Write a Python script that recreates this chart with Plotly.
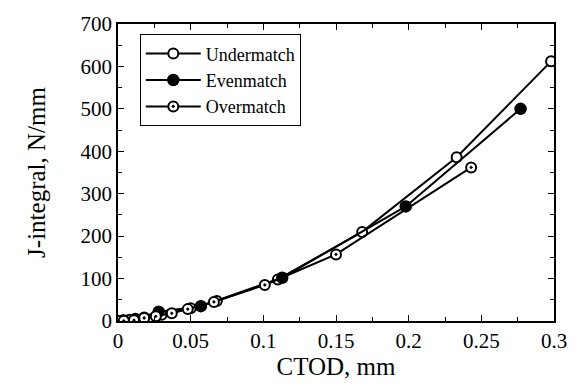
import plotly.graph_objects as go

# CTOD (mm) and J-integral (N/mm) for each weld strength mismatch
under_ctod = [0.0, 0.003, 0.008, 0.018, 0.030, 0.050, 0.068, 0.110, 0.168, 0.233, 0.298]
under_j = [0, 1, 3, 8, 15, 30, 47, 98, 210, 386, 612]

even_ctod = [0.0, 0.004, 0.012, 0.028, 0.057, 0.113, 0.198, 0.277]
even_j = [0, 1, 5, 22, 35, 102, 270, 500]

over_ctod = [0.0, 0.004, 0.011, 0.018, 0.026, 0.037, 0.048, 0.066, 0.101, 0.150, 0.243]
over_j = [0, 0.5, 2, 7, 11, 18, 28, 45, 85, 157, 362]

x_ticks = [0, 0.05, 0.1, 0.15, 0.2, 0.25, 0.3]
x_tick_text = ["0", "0.05", "0.1", "0.15", "0.2", "0.25", "0.3"]
y_ticks = [0, 100, 200, 300, 400, 500, 600, 700]

FONT = "Liberation Serif"

fig = go.Figure()

fig.add_trace(go.Scatter(
    x=under_ctod, y=under_j, name="Undermatch", mode="lines+markers",
    line=dict(color="black", width=2),
    marker=dict(symbol="circle", size=10, color="white",
                line=dict(color="black", width=2)),
))
fig.add_trace(go.Scatter(
    x=even_ctod, y=even_j, name="Evenmatch", mode="lines+markers",
    line=dict(color="black", width=2),
    marker=dict(symbol="circle", size=11, color="black",
                line=dict(color="black", width=1.5)),
))
fig.add_trace(go.Scatter(
    x=over_ctod, y=over_j, name="Overmatch", mode="lines+markers",
    line=dict(color="black", width=2),
    marker=dict(symbol="circle-dot", size=10, color="white",
                line=dict(color="black", width=2)),
))

axis_common = dict(
    showline=True, linecolor="black", linewidth=1.5, mirror="ticks",
    ticks="inside", ticklen=6, tickcolor="black", tickwidth=1,
    showgrid=False, zeroline=False,
    tickfont=dict(family=FONT, size=21, color="black"),
)

fig.update_xaxes(
    range=[0, 0.3], tickvals=x_ticks, ticktext=x_tick_text,
    minor=dict(ticks="inside", ticklen=4, dtick=0.025, tickcolor="black"),
    title=dict(text="CTOD, mm", font=dict(family=FONT, size=25, color="black"),
               standoff=5),
    **axis_common,
)
fig.update_yaxes(
    range=[0, 700], tickvals=y_ticks,
    minor=dict(ticks="inside", ticklen=4, dtick=50, tickcolor="black"),
    title=dict(text="J-integral, N/mm", font=dict(family=FONT, size=25, color="black"),
               standoff=28),
    **axis_common,
)

fig.update_layout(
    width=579, height=387,
    margin=dict(l=118, r=23, t=15, b=65),
    plot_bgcolor="white", paper_bgcolor="white",
    font=dict(family=FONT, color="black"),
    legend=dict(
        x=0.05, y=0.965, xanchor="left", yanchor="top",
        bgcolor="white", bordercolor="black", borderwidth=1,
        font=dict(family=FONT, size=18, color="black"),
        tracegroupgap=0, itemwidth=55,
    ),
)

fig.write_html("out.html")
